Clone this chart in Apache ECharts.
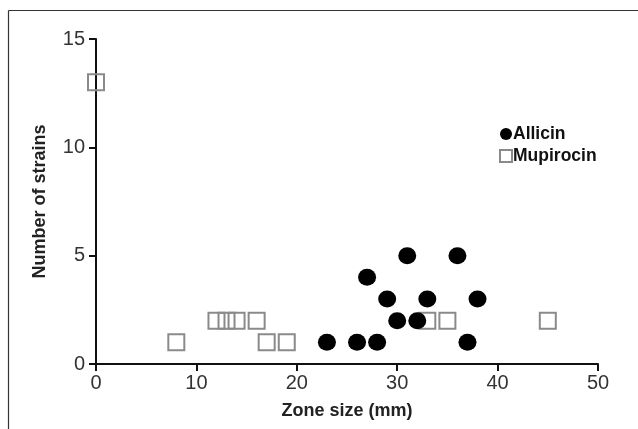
<!DOCTYPE html>
<html>
<head>
<meta charset="utf-8">
<script src="https://cdn.jsdelivr.net/npm/echarts@6/dist/echarts.min.js"></script>
<style>html,body{margin:0;padding:0;background:#fff;}#c{width:638px;height:429px;}</style>
</head>
<body>
<div id="c"></div>
<script>
// Data
const allicinZone = [23, 26, 28, 37, 30, 32, 29, 33, 38, 27, 31, 36];
const allicinStrains = [1, 1, 1, 1, 2, 2, 3, 3, 3, 4, 5, 5];
const mupirocinZone = [0, 8, 12, 13, 14, 16, 17, 19, 33, 35, 45];
const mupirocinStrains = [13, 1, 2, 2, 2, 2, 1, 1, 2, 2, 2];
const xTicks = [0, 10, 20, 30, 40, 50];
const yTicks = [0, 5, 10, 15];

const chart = echarts.init(document.getElementById('c'));
const font = 'Liberation Sans, Arial, sans-serif';
chart.setOption({
  animation: false,
  backgroundColor: '#fff',
  graphic: [
    {type: 'line', shape: {x1: 8.5, y1: 10.5, x2: 638, y2: 10.5}, style: {stroke: '#333', lineWidth: 1.2}},
    {type: 'line', shape: {x1: 8.5, y1: 10.5, x2: 8.5, y2: 429}, style: {stroke: '#333', lineWidth: 1.2}}
  ],
  grid: {left: 96, right: 40, top: 39, bottom: 65},
  legend: {
    data: ['Allicin', 'Mupirocin'],
    orient: 'vertical',
    left: 494, top: 120,
    itemWidth: 12, itemHeight: 12, itemGap: 4,
    textStyle: {fontFamily: font, fontSize: 17.5, fontWeight: 'bold', color: '#111', padding: [0, 0, 0, -4]}
  },
  xAxis: {
    type: 'value', min: 0, max: 50, interval: 10,
    name: 'Zone size (mm)', nameLocation: 'middle', nameGap: 38,
    nameTextStyle: {fontFamily: font, fontSize: 18, fontWeight: 'bold', color: '#222'},
    axisLine: {lineStyle: {color: '#111', width: 2}},
    axisTick: {show: true, length: 7, lineStyle: {color: '#111', width: 2}},
    axisLabel: {fontFamily: font, fontSize: 20, color: '#333', margin: 9,
      formatter: v => xTicks.includes(v) ? String(v) : ''},
    splitLine: {show: false}
  },
  yAxis: {
    type: 'value', min: 0, max: 15, interval: 5,
    name: 'Number of strains', nameLocation: 'middle', nameGap: 47,
    nameTextStyle: {fontFamily: font, fontSize: 18, fontWeight: 'bold', color: '#222'},
    axisLine: {lineStyle: {color: '#111', width: 2}},
    axisTick: {show: true, length: 7, lineStyle: {color: '#111', width: 2}},
    axisLabel: {fontFamily: font, fontSize: 20, color: '#333', margin: 11,
      formatter: v => yTicks.includes(v) ? String(v) : ''},
    splitLine: {show: false}
  },
  series: [
    {
      name: 'Mupirocin', type: 'scatter', symbol: 'rect', symbolSize: 16, z: 2,
      data: mupirocinZone.map((x, i) => [x, mupirocinStrains[i]]),
      itemStyle: {color: 'rgba(255,255,255,0)', borderColor: '#8a8a8a', borderWidth: 2, opacity: 1}
    },
    {
      name: 'Allicin', type: 'scatter', symbol: 'circle', symbolSize: [18, 17], z: 3,
      data: allicinZone.map((x, i) => [x, allicinStrains[i]]),
      itemStyle: {color: '#000', opacity: 1}
    }
  ]
});
</script>
</body>
</html>
